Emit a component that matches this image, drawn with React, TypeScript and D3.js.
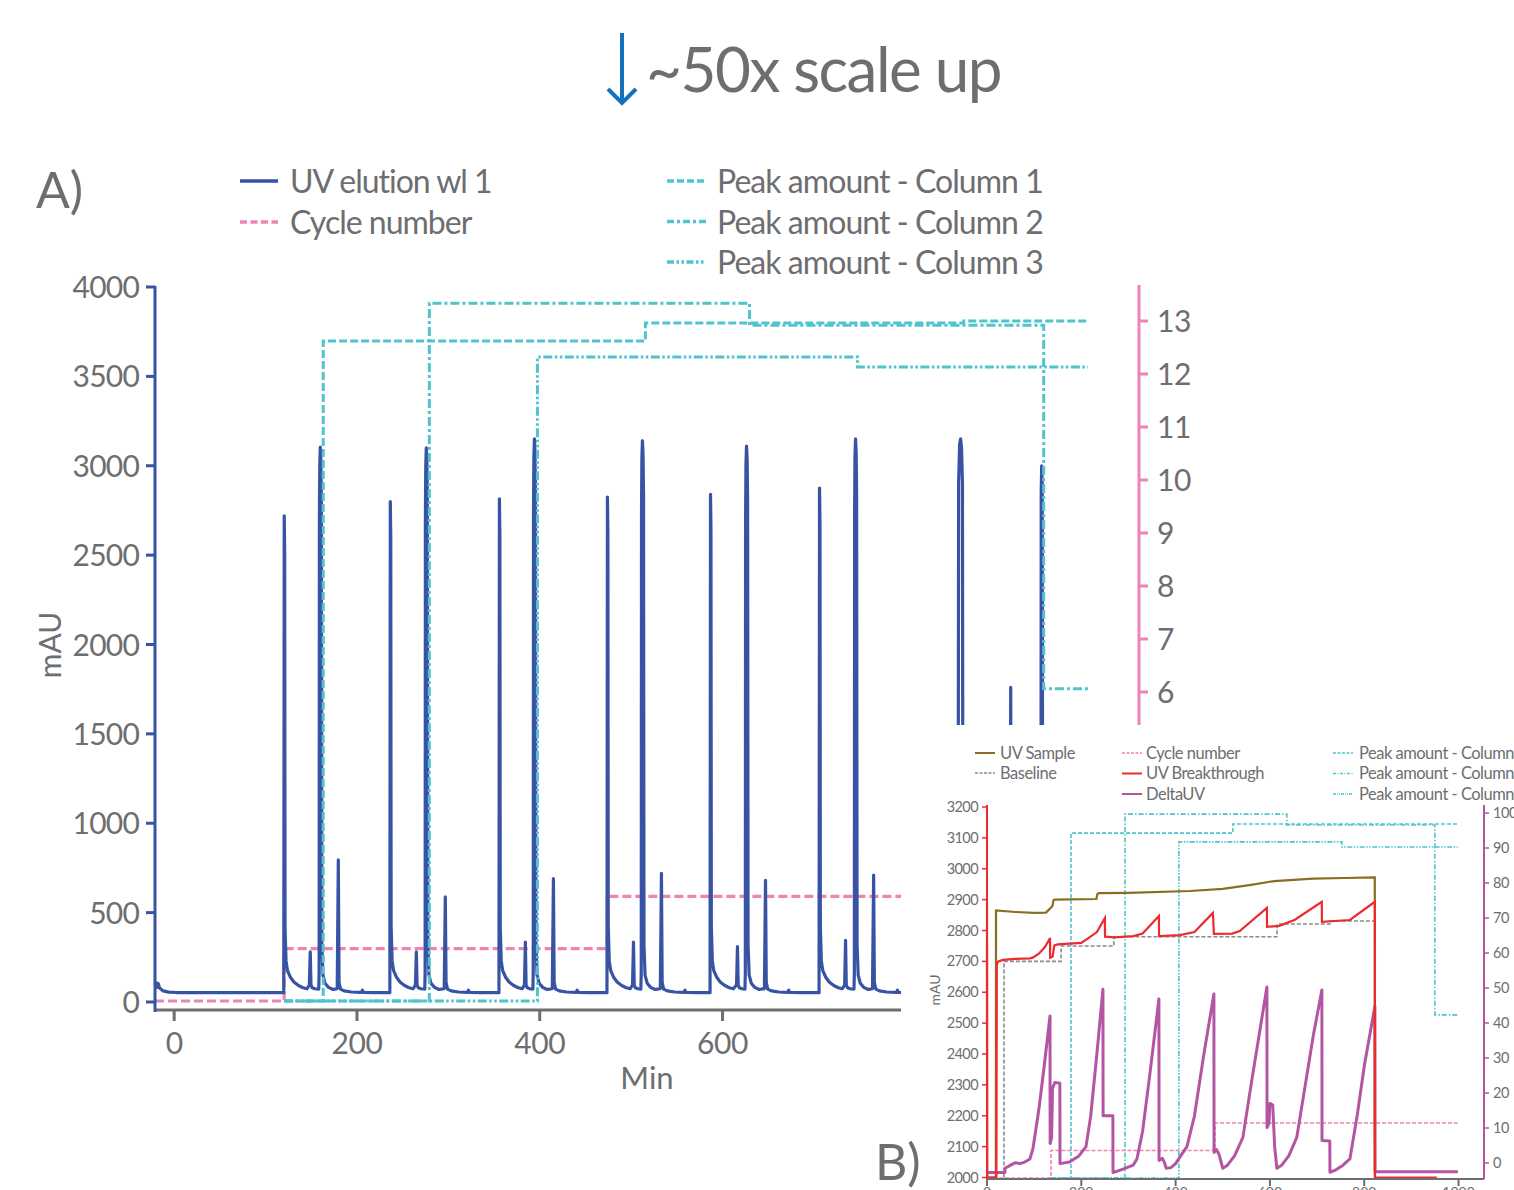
import React from 'react';
import * as d3 from 'd3';

type Pt = [number, number];

// ---------- Panel A data (time in min, UV in mAU) ----------
const uvStart: Pt[] = [[-21,95],[-19.8,108],[-18.8,82],[-17.5,104],[-16,78],[-12,62],[-6,55],[2,53],[60,52],[119.9,52]];
const uvCycle1: Pt[] = [[120.4,2720],[120.9,2520],[121.3,420],[122.4,230],[124,175],[127,140],[131,112],[136,92],[141,80],[145.4,74],
  [147.9,95],[148.9,280],[149.7,95],[150.9,80],[153.9,74],
  [158.2,72],[158.6,160],[158.9,2700],[159.3,3000],[159.9,3105],[160.6,3020],[161.1,2800],[161.6,320],[162.8,150],[165,105],[168.9,82],[173.9,70],
  [178.4,75],[179.6,795],[180.4,110],[182,72],[186,62],[194,56],[203.6,54],[205,54],[206,66],[207,54],[220,52],[236,52]];
const uvCycle2: Pt[] = [[236.5,2800],[237,2600],[237.4,420],[238.5,230],[240.1,175],[243.1,140],[247.1,112],[252.1,92],[257.1,80],[261.5,74],
  [264,95],[265,280],[265.8,95],[267,80],[270,74],
  [274.2,72],[274.6,160],[274.9,2700],[275.3,3000],[275.9,3100],[276.6,3020],[277.1,2800],[277.6,320],[278.8,150],[281,105],[284.9,82],[289.9,70],
  [295.5,75],[296.7,588],[297.5,110],[299.1,72],[303.1,62],[311.1,56],[320.7,54],[321,54],[322,66],[323,54],[336,52],[355.4,52]];
const uvCycle3: Pt[] = [[355.9,2815],[356.4,2615],[356.8,420],[357.9,230],[359.5,175],[362.5,140],[366.5,112],[371.5,92],[376.5,80],[380.9,74],
  [383.3,95],[384.3,335],[385.1,95],[386.3,80],[389.3,74],
  [392.5,72],[392.9,160],[393.2,2750],[393.6,3050],[394.2,3150],[394.9,3070],[395.4,2850],[395.9,320],[397.1,150],[399.4,105],[403.2,82],[408.2,70],
  [413.8,75],[415,690],[415.8,110],[417.4,72],[421.4,62],[429.4,56],[439,54],[440,54],[441,66],[442,54],[455,52],[473.6,52]];
const uvCycle4: Pt[] = [[474.1,2825],[474.6,2625],[475,420],[476.1,230],[477.7,175],[480.7,140],[484.7,112],[489.7,92],[494.7,80],[499.1,74],
  [501.6,95],[502.6,335],[503.4,95],[504.6,80],[507.6,74],
  [510.7,72],[511.1,160],[511.4,2740],[511.8,3040],[512.4,3140],[513.1,3060],[513.6,2840],[514.1,320],[515.3,150],[517.6,105],[521.4,82],[526.4,70],
  [532,75],[533.2,720],[534,110],[535.6,72],[539.6,62],[547.6,56],[557.2,54],[558,54],[559,66],[560,54],[573,52],[586.4,52]];
const uvCycle5: Pt[] = [[586.9,2840],[587.4,2640],[587.8,420],[588.9,230],[590.5,175],[593.5,140],[597.5,112],[602.5,92],[607.5,80],[611.9,74],
  [615.4,95],[616.4,310],[617.2,95],[618.4,80],[621.4,74],
  [624.6,72],[625,160],[625.3,2710],[625.7,3010],[626.3,3110],[627,3030],[627.5,2810],[628,320],[629.2,150],[631.5,105],[635.3,82],[640.3,70],
  [645.9,75],[647.1,680],[647.9,110],[649.5,72],[653.5,62],[661.5,56],[671,54],[671.5,54],[672.5,66],[673.5,54],[686,52],[705.7,52]];
const uvCycle6: Pt[] = [[706.2,2875],[706.7,2675],[707.1,420],[708.2,230],[709.8,175],[712.8,140],[716.8,112],[721.8,92],[726.8,80],[731.2,74],
  [733.7,95],[734.7,345],[735.5,95],[736.7,80],[739.7,74],
  [743.9,72],[744.3,160],[744.6,2750],[745,3050],[745.6,3150],[746.3,3070],[746.8,2850],[747.3,320],[748.5,150],[750.8,105],[754.6,82],[759.6,70],
  [764.2,75],[765.4,710],[766.2,110],[767.8,72],[771.8,62],[779.8,56],[789.4,54],[790.5,54],[791.5,66],[792.5,54],[805,52],[857,52]];
const uvCycle7: Pt[] = [[857.8,160],[858.4,2900],[859.5,3120],[860.6,3150],[861.6,3100],[862.6,2900],[863.2,320],[864.5,150],[867,105],[871,82],[877,70],[890,58],[905,54],
  [914.6,70],[915.4,1760],[916.2,110],[918,70],[930,56],[947.9,54],
  [948.5,160],[948.8,2850],[949.3,3000],[949.9,2900],[950.5,320],[952,150],[955,105],[960,82],[970,66],[985,56],[1000,54]];

const cycleA: Pt[] = [[-21,0],[120.4,1],[474,2],[1000,2]];
const peakCol1A: Pt[] = [[120.4,0],[163.1,12.62],[515.7,12.96],[864,13.0],[1000,13.0]];
const peakCol2A: Pt[] = [[120.4,0],[279.2,13.34],[629.6,12.92],[951.5,5.97],[1000,5.97]];
const peakCol3A: Pt[] = [[120.4,0],[397.5,12.31],[747.8,12.12],[1000,12.12]];

const yTicksA = [0,500,1000,1500,2000,2500,3000,3500,4000];
const xTicksA = [0,200,400,600];
const rTicksA = [6,7,8,9,10,11,12,13];

// ---------- Panel B data ----------
const uvSampleB: Pt[] = [[0,2900],[0.3,2000],[18.8,2000],[19.1,2865],[60,2860],[100,2857],[125,2858],[133,2870],[139,2880],[141,2898],[144,2900],
  [232,2902],[234,2918],[237,2921],[300,2922],[430,2928],[500,2935],[560,2948],[600,2958],[610,2960],[691,2968],[760,2970],[822.4,2972],[822.6,2000]];
const breakthroughB: Pt[] = [[0,2760],[0.3,2000],[20,2000],[20.8,2690],[24,2700],[34,2705],[60,2708],[91,2710],[97,2712],[110,2725],[122,2745],[130,2765],[133.6,2776],
  [133.9,2712],[139,2715],[141,2735],[143,2752],[150,2755],[200,2760],[215,2775],[233,2795],[250,2840],[250.3,2780],[270,2778],[310,2782],[330,2790],[364.6,2847],
  [364.9,2782],[409,2785],[440,2795],[479,2857],[481.2,2789],[520,2790],[536,2798],[593.6,2873],[593.9,2812],[620,2815],[653,2835],[710,2893],[710.3,2828],
  [769.6,2834],[822.6,2893],[822.9,2000],[954,2000]];
const baselineB: Pt[] = [[36,2000],[36.2,2700],[157,2700],[157.2,2750],[269,2750],[269.2,2780],[615,2780],[615.2,2821],[727,2821],[727.2,2831],[822.6,2831],[822.8,2000]];
const deltaUvB: Pt[] = [[0,2016],[38,2016],[38.3,2030],[50,2040],[60,2048],[70,2045],[80,2050],[91,2060],[97.5,2094],[110,2220],[122,2370],[133.6,2523],
  [133.9,2110],[137,2130],[139,2290],[144,2308],[154.5,2305],[154.8,2045],[175,2050],[195,2070],[210,2100],[220,2200],[233,2400],[245.9,2610],
  [246.2,2200],[267,2200],[267.2,2016],[290,2028],[310,2040],[318,2060],[330,2150],[345,2330],[364.6,2578],
  [364.9,2055],[372,2062],[376,2050],[380,2030],[390,2032],[400,2045],[409,2066],[424,2100],[440,2200],[460,2400],[481.2,2594],
  [481.5,2081],[487,2090],[492,2075],[500,2030],[510,2040],[525,2070],[542.7,2130],[560,2300],[578,2470],[593.6,2617],
  [593.9,2162],[598,2175],[600,2240],[606,2235],[610,2100],[614.8,2030],[625,2040],[640,2070],[657,2130],[675,2300],[692,2460],[710.2,2607],
  [710.5,2120],[727,2118],[727.3,2017],[740,2025],[755,2040],[769.6,2060],[785,2200],[800,2360],[822.6,2555],[822.9,2019],[998.5,2019]];
const cycleB: Pt[] = [[0,0],[135.7,1],[483.4,2],[998.5,2]];
const peakCol1B: Pt[] = [[135.7,0],[178.1,94.5],[521.5,97],[998.5,97]];
const peakCol2B: Pt[] = [[135.7,0],[292.6,99.7],[636,96.7],[949.8,44.7],[998.5,44.7]];
const peakCol3B: Pt[] = [[135.7,0],[407,92.1],[752.6,90.7],[998.5,90.7]];

const yTicksB = [2000,2100,2200,2300,2400,2500,2600,2700,2800,2900,3000,3100,3200];
const rTicksB = [0,10,20,30,40,50,60,70,80,90,100];
const xTicksB = [0,200,400,600,800,1000];

const legendA1 = ['UV elution wl 1', 'Cycle number'];
const legendA2 = ['Peak amount - Column 1', 'Peak amount - Column 2', 'Peak amount - Column 3'];
const legendB1 = ['UV Sample', 'Baseline'];
const legendB2 = ['Cycle number', 'UV Breakthrough', 'DeltaUV'];
const legendB3 = ['Peak amount - Column 1', 'Peak amount - Column 2', 'Peak amount - Column 3'];

const FONT = 'Lato, "Open Sans", sans-serif';
const GRAY = '#6d6e71';
const BLUE = '#3953a4';
const PINK = '#f083b5';
const CYAN = '#4fc4cc';
const OLIVE = '#8a6d1f';
const RED = '#ee2a2e';
const MAGENTA = '#b455a3';
const BGRAY = '#8a8a8a';
const ARROW = '#1173be';

const dashA = { pink: '9,4', c1: '8,3', c2: '9,3,3,3', c3: '9,2.5,2.5,2.5,2.5,2.5' };
const dashB = { pink: '4,2', gray: '4,2', c1: '4,2', c2: '5,2,1.5,2', c3: '5,1.5,1.5,1.5,1.5,1.5' };

export default function App() {
  const xA = d3.scaleLinear().domain([-21, 1000]).range([155, 1088]);
  const yA = d3.scaleLinear().domain([0, 4000]).range([1002, 287]);
  const yAR = d3.scaleLinear().domain([6, 13]).range([692, 321]);
  const yAH = d3.scaleLinear().domain([0, 13]).range([1001, 321]);

  const uv = [...uvStart, ...uvCycle1, ...uvCycle2, ...uvCycle3, ...uvCycle4, ...uvCycle5, ...uvCycle6, ...uvCycle7];
  const lineA = d3.line<Pt>().x(d => xA(d[0])).y(d => yA(d[1]));
  const stepA = d3.line<Pt>().x(d => xA(d[0])).y(d => yAH(d[1])).curve(d3.curveStepAfter);

  const xB = d3.scaleLinear().domain([0, 1054]).range([987, 1484]);
  const yB = d3.scaleLinear().domain([2000, 3200]).range([1177.5, 807]);
  const yBR = d3.scaleLinear().domain([0, 100]).range([1163, 813]);
  const yBC = d3.scaleLinear().domain([0, 2]).range([1178, 1123]);
  const yBP = d3.scaleLinear().domain([0, 100]).range([1178, 813]);
  const lineB = d3.line<Pt>().x(d => xB(d[0])).y(d => yB(d[1]));
  const stepBC = d3.line<Pt>().x(d => xB(d[0])).y(d => yBC(d[1])).curve(d3.curveStepAfter);
  const stepBP = d3.line<Pt>().x(d => xB(d[0])).y(d => yBP(d[1])).curve(d3.curveStepAfter);

  const tA = { fontFamily: FONT, fill: GRAY };

  return (
    <svg width={1514} height={1190} style={{ position: 'absolute', left: 0, top: 0, display: 'block', background: '#fff' }}>
      {/* Title */}
      <line x1={622} y1={33} x2={622} y2={103} stroke={ARROW} strokeWidth={4} />
      <polyline points="608,89 622,103 636,89" fill="none" stroke={ARROW} strokeWidth={4} strokeLinejoin="miter" />
      <text x={646} y={92} fontSize={62} letterSpacing={-1.5} {...tA}>~50x scale up</text>

      <text x={36} y={208} fontSize={50} {...tA}>A)</text>

      {/* Legend A */}
      <line x1={240} x2={278} y1={181} y2={181} stroke={BLUE} strokeWidth={3.5} />
      <line x1={240} x2={278} y1={222} y2={222} stroke={PINK} strokeWidth={3.5} strokeDasharray="7,3.5" />
      {legendA1.map((t, i) => (
        <text key={t} x={290} y={193 + i * 41} fontSize={32} letterSpacing={-1.0} {...tA}>{t}</text>
      ))}
      {legendA2.map((t, i) => (
        <g key={t}>
          <line x1={667} x2={706} y1={181 + i * 40.5} y2={181 + i * 40.5} stroke={CYAN} strokeWidth={3.5}
            strokeDasharray={i === 0 ? '7,3' : i === 1 ? '7,3,3,3' : '7,2.5,2.5,2.5,2.5,2.5'} />
          <text x={717} y={193 + i * 40.5} fontSize={32} letterSpacing={-0.95} {...tA}>{t}</text>
        </g>
      ))}

      {/* Panel A series */}
      <path d={stepA(cycleA) || ''} fill="none" stroke={PINK} strokeWidth={3.2} strokeDasharray={dashA.pink} />
      <path d={lineA(uv) || ''} fill="none" stroke={BLUE} strokeWidth={3.2} strokeLinejoin="round" />
      <path d={stepA(peakCol3A) || ''} fill="none" stroke={CYAN} strokeWidth={3} strokeDasharray={dashA.c3} />
      <path d={stepA(peakCol2A) || ''} fill="none" stroke={CYAN} strokeWidth={3} strokeDasharray={dashA.c2} />
      <path d={stepA(peakCol1A) || ''} fill="none" stroke={CYAN} strokeWidth={3} strokeDasharray={dashA.c1} />

      {/* Panel A axes */}
      <line x1={155} x2={1088} y1={1010} y2={1010} stroke={GRAY} strokeWidth={3} />
      {xTicksA.map(v => (
        <g key={v}>
          <line x1={xA(v)} x2={xA(v)} y1={1010} y2={1021} stroke={GRAY} strokeWidth={3} />
          <text x={xA(v)} y={1054} textAnchor="middle" fontSize={30} letterSpacing={-0.5} {...tA}>{v}</text>
        </g>
      ))}
      <text x={647} y={1089} textAnchor="middle" fontSize={31} {...tA}>Min</text>
      <line x1={155} x2={155} y1={286} y2={1012} stroke={BLUE} strokeWidth={3} />
      {yTicksA.map(v => (
        <g key={v}>
          <line x1={146} x2={155} y1={yA(v)} y2={yA(v)} stroke={BLUE} strokeWidth={3} />
          <text x={139} y={yA(v) + 11} textAnchor="end" fontSize={30} letterSpacing={-0.8} {...tA}>{v}</text>
        </g>
      ))}
      <text transform="translate(61,645) rotate(-90)" textAnchor="middle" fontSize={30} {...tA}>mAU</text>
      <line x1={1139} x2={1139} y1={285} y2={1010} stroke={PINK} strokeWidth={3} />
      {rTicksA.map(v => (
        <g key={v}>
          <line x1={1139} x2={1148} y1={yAR(v)} y2={yAR(v)} stroke={PINK} strokeWidth={3} />
          <text x={1157} y={yAR(v) + 11} fontSize={30} letterSpacing={-0.5} {...tA}>{v}</text>
        </g>
      ))}

      {/* Inset B */}
      <rect x={901} y={725} width={613} height={465} fill="#fff" />
      <text x={875} y={1180} fontSize={50} {...tA}>B)</text>

      {/* Legend B */}
      <line x1={975} x2={995} y1={753} y2={753} stroke={OLIVE} strokeWidth={2} />
      <line x1={975} x2={995} y1={773} y2={773} stroke={BGRAY} strokeWidth={1.5} strokeDasharray="3,1.5" />
      {legendB1.map((t, i) => (
        <text key={t} x={1000} y={758.5 + i * 20.5} fontSize={16.5} letterSpacing={-0.5} {...tA}>{t}</text>
      ))}
      {legendB2.map((t, i) => (
        <g key={t}>
          <line x1={1122} x2={1142} y1={753 + i * 20.5} y2={753 + i * 20.5}
            stroke={i === 0 ? PINK : i === 1 ? RED : MAGENTA} strokeWidth={i === 0 ? 1.5 : 2}
            strokeDasharray={i === 0 ? '3,1.5' : undefined} />
          <text x={1146} y={758.5 + i * 20.5} fontSize={16.5} letterSpacing={-0.5} {...tA}>{t}</text>
        </g>
      ))}
      {legendB3.map((t, i) => (
        <g key={t}>
          <line x1={1333} x2={1353} y1={753 + i * 20.5} y2={753 + i * 20.5} stroke={CYAN} strokeWidth={1.5}
            strokeDasharray={i === 0 ? '3,1.5' : i === 1 ? '3,1.5,1,1.5' : '3,1,1,1,1,1'} />
          <text x={1359} y={758.5 + i * 20.5} fontSize={16.5} letterSpacing={-0.5} {...tA}>{t}</text>
        </g>
      ))}

      {/* Panel B series */}
      <path d={stepBP(peakCol1B) || ''} fill="none" stroke={CYAN} strokeWidth={1.6} strokeDasharray={dashB.c1} />
      <path d={stepBP(peakCol2B) || ''} fill="none" stroke={CYAN} strokeWidth={1.6} strokeDasharray={dashB.c2} />
      <path d={stepBP(peakCol3B) || ''} fill="none" stroke={CYAN} strokeWidth={1.6} strokeDasharray={dashB.c3} />
      <path d={stepBC(cycleB) || ''} fill="none" stroke={PINK} strokeWidth={1.6} strokeDasharray={dashB.pink} />
      <path d={lineB(baselineB) || ''} fill="none" stroke={BGRAY} strokeWidth={1.6} strokeDasharray={dashB.gray} />
      <path d={lineB(deltaUvB) || ''} fill="none" stroke={MAGENTA} strokeWidth={3} strokeLinejoin="round" />
      <path d={lineB(uvSampleB) || ''} fill="none" stroke={OLIVE} strokeWidth={2.2} />
      <path d={lineB(breakthroughB) || ''} fill="none" stroke={RED} strokeWidth={2.2} />

      {/* Panel B axes */}
      <line x1={987} x2={1484} y1={1179} y2={1179} stroke={GRAY} strokeWidth={2} />
      {xTicksB.map(v => (
        <g key={v}>
          <line x1={xB(v)} x2={xB(v)} y1={1179} y2={1186} stroke={GRAY} strokeWidth={2} />
          <text x={xB(v)} y={1197} textAnchor="middle" fontSize={14} {...tA}>{v}</text>
        </g>
      ))}
      <line x1={987} x2={987} y1={805} y2={1179} stroke={RED} strokeWidth={2} />
      {yTicksB.map(v => (
        <g key={v}>
          <line x1={982} x2={987} y1={yB(v)} y2={yB(v)} stroke={RED} strokeWidth={1.5} />
          <text x={978} y={yB(v) + 5} textAnchor="end" fontSize={14.5} letterSpacing={-0.6} {...tA}>{v}</text>
        </g>
      ))}
      <text transform="translate(940,990) rotate(-90)" textAnchor="middle" fontSize={14} {...tA}>mAU</text>
      <line x1={1484} x2={1484} y1={805} y2={1179} stroke={MAGENTA} strokeWidth={2} />
      {rTicksB.map(v => (
        <g key={v}>
          <line x1={1484} x2={1489} y1={yBR(v)} y2={yBR(v)} stroke={MAGENTA} strokeWidth={1.5} />
          <text x={1493} y={yBR(v) + 5} fontSize={14.5} letterSpacing={-0.4} {...tA}>{v}</text>
        </g>
      ))}
    </svg>
  );
}
